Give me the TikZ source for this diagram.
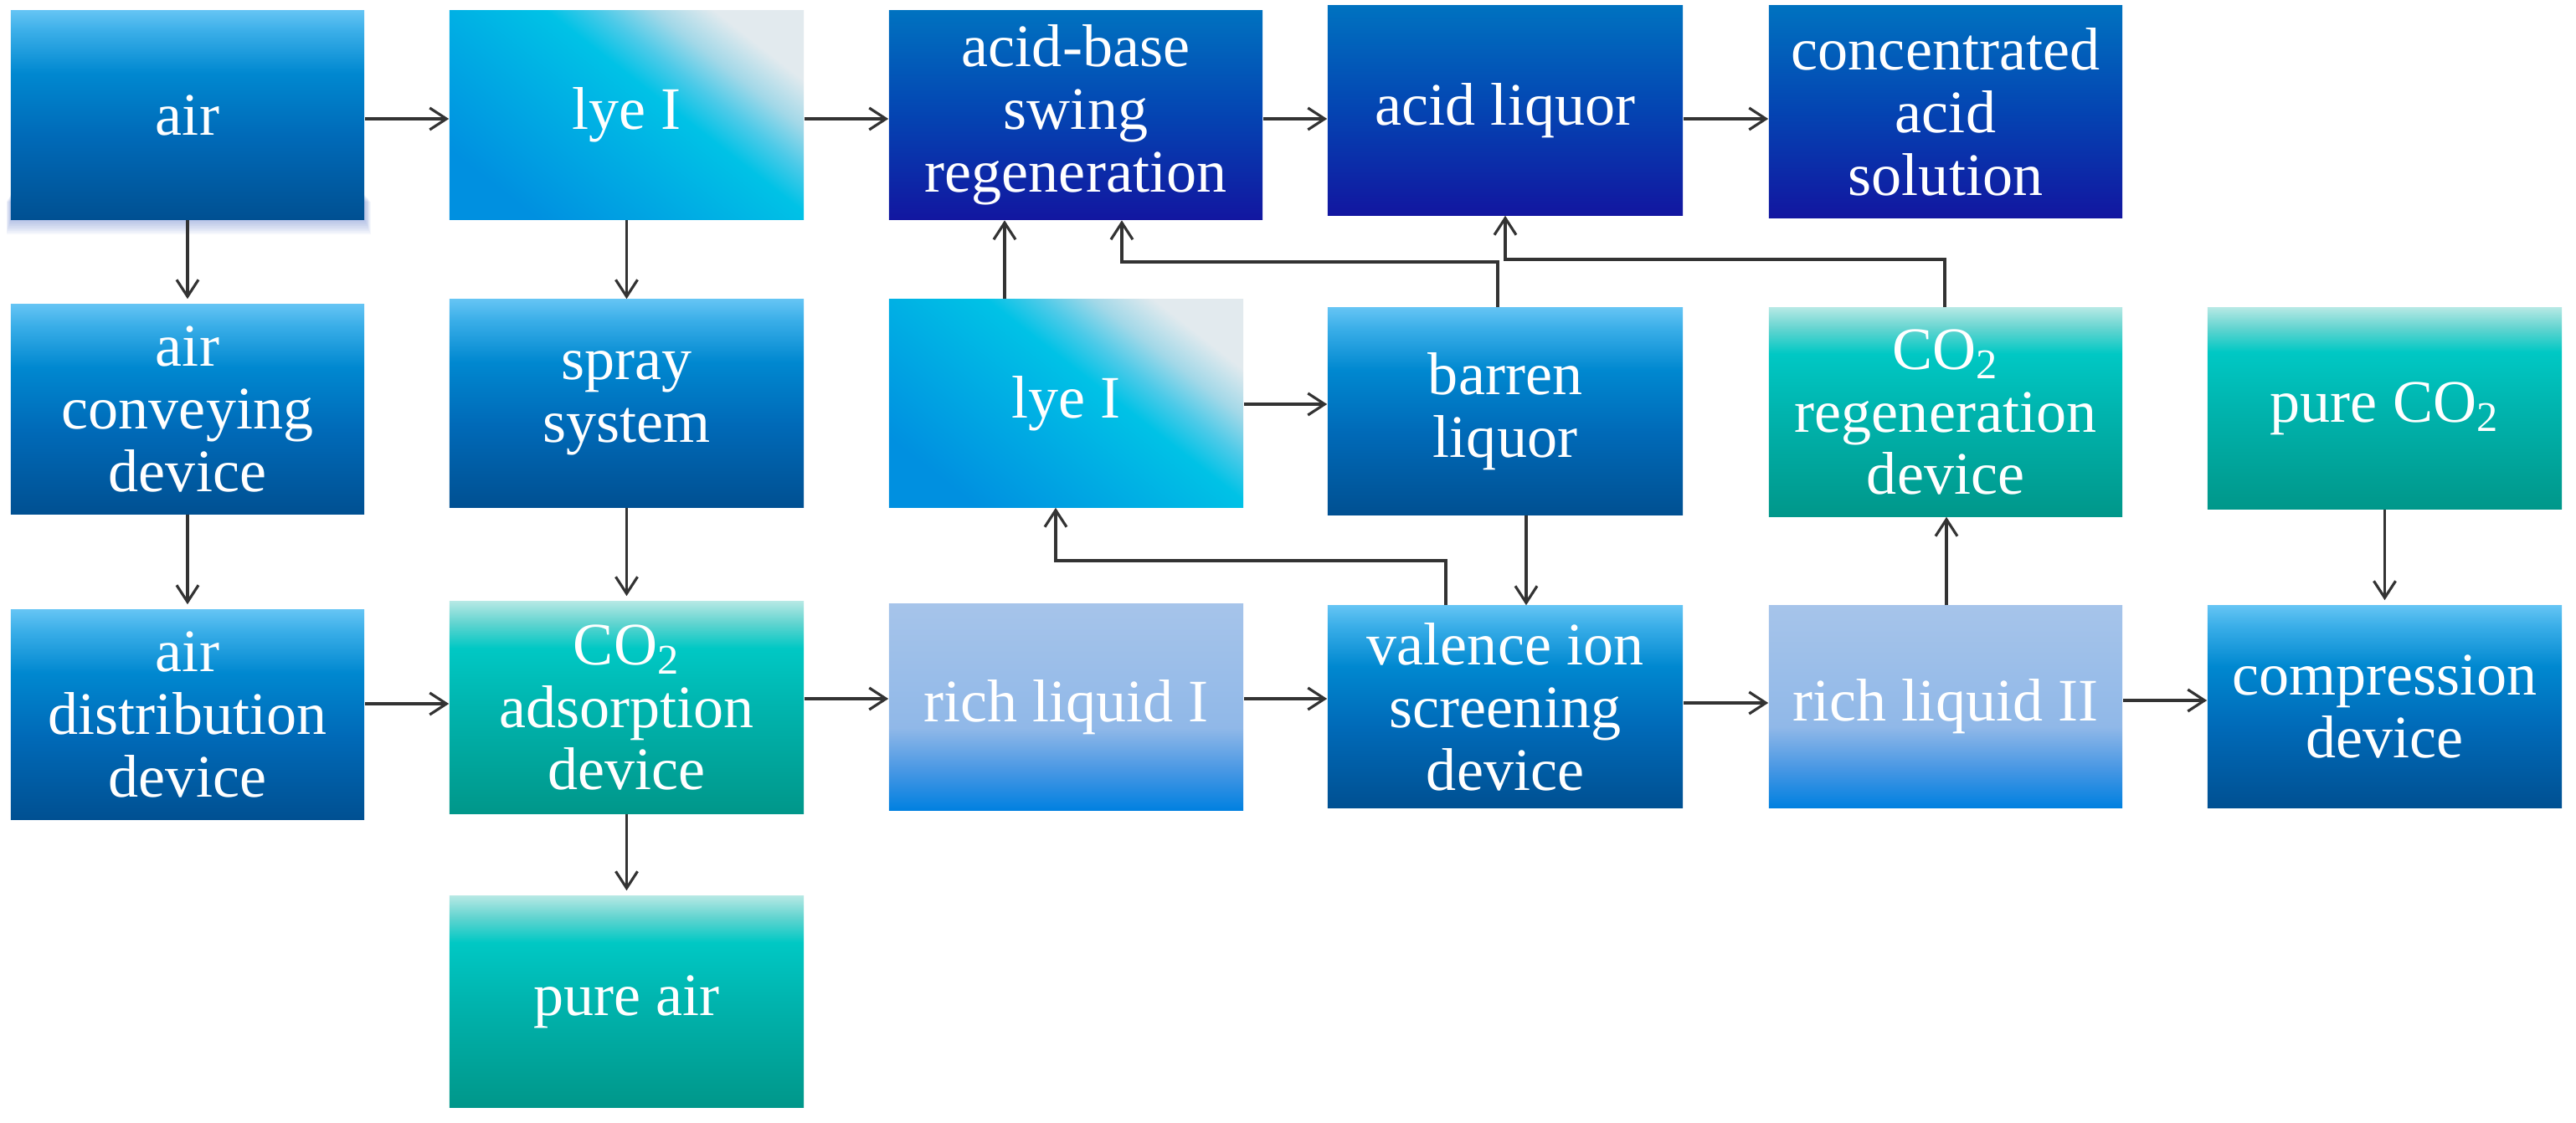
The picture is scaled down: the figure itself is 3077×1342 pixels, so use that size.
\documentclass[tikz,border=0pt]{standalone}
\usepackage{fontspec}
\setmainfont{Liberation Serif}
\usetikzlibrary{arrows.meta}
% blue boxes
\definecolor{bA1}{HTML}{005092}
\definecolor{bA2}{HTML}{006AB8}
\definecolor{bA3}{HTML}{0088D0}
\definecolor{bA4}{HTML}{3AAEE8}
\definecolor{bA5}{HTML}{64C4F4}
% navy boxes
\definecolor{nA1}{HTML}{1216A0}
\definecolor{nA2}{HTML}{0444B2}
\definecolor{nA3}{HTML}{0072C0}
% teal boxes
\definecolor{tA1}{HTML}{00978A}
\definecolor{tA2}{HTML}{00B4AE}
\definecolor{tA3}{HTML}{00C8C4}
\definecolor{tA4}{HTML}{62D4D0}
\definecolor{tA5}{HTML}{B4E8E4}
% rich boxes
\definecolor{rA1}{HTML}{0080E0}
\definecolor{rA2}{HTML}{4A98E4}
\definecolor{rA3}{HTML}{90B8E8}
\definecolor{rA4}{HTML}{A6C4EA}
% lye boxes
\definecolor{lA1}{HTML}{0090E0}
\definecolor{lA2}{HTML}{00B0E4}
\definecolor{lA3}{HTML}{00C2E6}
\definecolor{lA4}{HTML}{4CCAE8}
\definecolor{lA5}{HTML}{A2D8E8}
\definecolor{lA6}{HTML}{E2EAEE}
\definecolor{linec}{HTML}{333333}
\definecolor{shadowc}{HTML}{4A6CC8}
\pgfdeclareverticalshading{shBlue}{100bp}{color(0bp)=(bA1); color(25bp)=(bA1); color(45bp)=(bA2); color(60bp)=(bA3); color(70bp)=(bA4); color(75bp)=(bA5); color(100bp)=(bA5)}
\pgfdeclareverticalshading{shNavy}{100bp}{color(0bp)=(nA1); color(25bp)=(nA1); color(50bp)=(nA2); color(75bp)=(nA3); color(100bp)=(nA3)}
\pgfdeclareverticalshading{shTeal}{100bp}{color(0bp)=(tA1); color(25bp)=(tA1); color(50bp)=(tA2); color(64bp)=(tA3); color(70bp)=(tA4); color(75bp)=(tA5); color(100bp)=(tA5)}
\pgfdeclareverticalshading{shRich}{100bp}{color(0bp)=(rA1); color(25bp)=(rA1); color(35bp)=(rA2); color(45bp)=(rA3); color(75bp)=(rA4); color(100bp)=(rA4)}
\pgfdeclarehorizontalshading{shLye}{100bp}{color(0bp)=(lA1); color(25bp)=(lA1); color(45bp)=(lA2); color(56bp)=(lA3); color(62bp)=(lA4); color(68bp)=(lA5); color(75bp)=(lA6); color(100bp)=(lA6)}
\tikzset{
  bx/.style={rectangle, inner sep=0pt, align=center, text=white,
    font=\fontsize{20.5pt}{21.3pt}\selectfont},
  blueb/.style={bx, shading=shBlue},
  navyb/.style={bx, shading=shNavy},
  tealb/.style={bx, shading=shTeal},
  richb/.style={bx, shading=shRich},
  lyeb/.style={bx, shading=shLye, shading angle=52},
  arr/.style={draw=linec, line width=0.9pt,
    -{Straight Barb[length=0.2cm, width=0.26cm, line width=0.9pt]}},
}
\begin{document}
\begin{tikzpicture}[x=0.01cm, y=-0.01cm]
\useasboundingbox (0,0) rectangle (3077,1342);
\fill[white] (0,0) rectangle (3077,1342);
% soft shadow under "air"
\foreach \e in {0,2,...,18} {
  \fill[shadowc, opacity=0.05] (13-\e*0.3,232+\e*0.5) rectangle (435+\e*0.45,262+\e);
}
% row 1
\node[blueb, minimum width=4.22cm, minimum height=2.5cm] (air) at (224,137.5) {air};
\node[lyeb, minimum width=4.23cm, minimum height=2.5cm] (lyeA) at (748.5,137.5) {lye I};
\node[navyb, minimum width=4.46cm, minimum height=2.5cm] (abs) at (1285,137.5) {acid-base\\swing\\regeneration};
\node[navyb, minimum width=4.24cm, minimum height=2.5cm] (acid) at (1798,132) {acid liquor};
\node[navyb, minimum width=4.22cm, minimum height=2.53cm] (conc) at (2324,133.5) {concentrated\\acid\\solution};
% row 2
\node[blueb, minimum width=4.22cm, minimum height=2.5cm] (conv) at (224,489) {air\\conveying\\device};
\node[blueb, minimum width=4.23cm, minimum height=2.48cm] (spray) at (748.5,482) {spray\\system};
\node[lyeb, minimum width=4.23cm, minimum height=2.48cm] (lyeB) at (1273.5,482) {lye I};
\node[blueb, minimum width=4.24cm, minimum height=2.47cm] (barren) at (1798,491.5) {barren\\liquor};
\node[tealb, minimum width=4.22cm, minimum height=2.49cm] (cregen) at (2324,492.5) {CO\textsubscript{2}\\regeneration\\device};
\node[tealb, minimum width=4.23cm, minimum height=2.4cm] (pco2) at (2848.5,488) {pure CO\textsubscript{2}};
% row 3
\node[blueb, minimum width=4.22cm, minimum height=2.5cm] (dist) at (224,854) {air\\distribution\\device};
\node[tealb, minimum width=4.23cm, minimum height=2.53cm] (ads) at (748.5,845.5) {CO\textsubscript{2}\\adsorption\\device};
\node[richb, minimum width=4.23cm, minimum height=2.47cm] (rich1) at (1273.5,845) {rich liquid I};
\node[blueb, minimum width=4.24cm, minimum height=2.41cm] (val) at (1798,844.5) {valence ion\\screening\\device};
\node[richb, minimum width=4.22cm, minimum height=2.41cm] (rich2) at (2324,844.5) {rich liquid II};
\node[blueb, minimum width=4.23cm, minimum height=2.41cm] (comp) at (2848.5,844.5) {compression\\device};
% row 4
\node[tealb, minimum width=4.23cm, minimum height=2.52cm] (pair) at (748.5,1197) {pure air};
% connectors
\draw[arr] (air.east |- 0,142) -- (lyeA.west |- 0,142);
\draw[arr] (lyeA.east |- 0,142) -- (abs.west |- 0,142);
\draw[arr] (abs.east |- 0,142) -- (acid.west |- 0,142);
\draw[arr] (acid.east |- 0,142) -- (conc.west |- 0,142);
\draw[arr] (air.south) -- ([yshift=0.06cm]conv.north);
\draw[arr] (conv.south) -- ([yshift=0.06cm]dist.north);
\draw[arr] (lyeA.south) -- (spray.north);
\draw[arr] (spray.south) -- ([yshift=0.06cm]ads.north);
\draw[arr] (ads.south) -- ([yshift=0.06cm]pair.north);
\draw[arr] (dist.east |- 0,841) -- (ads.west |- 0,841);
\draw[arr] (ads.east |- 0,835) -- (rich1.west |- 0,835);
\draw[arr] (rich1.east |- 0,835) -- (val.west |- 0,835);
\draw[arr] (val.east |- 0,840) -- (rich2.west |- 0,840);
\draw[arr] (rich2.east |- 0,837) -- (comp.west |- 0,837);
\draw[arr] (1200,0 |- lyeB.north) -- (1200,0 |- abs.south);
\draw[arr] (lyeB.east |- 0,483) -- (barren.west |- 0,483);
\draw[arr] (1789,0 |- barren.north) -- (1789,313) -| (1340,0 |- abs.south);
\draw[arr] (2323,0 |- cregen.north) -- (2323,310) -| (1798,0 |- acid.south);
\draw[arr] (1823,0 |- barren.south) -- (1823,0 |- val.north);
\draw[arr] (1727,0 |- val.north) -- (1727,670) -| (1261,0 |- lyeB.south);
\draw[arr] (2325,0 |- rich2.north) -- (2325,0 |- cregen.south);
\draw[arr] (pco2.south) -- ([yshift=0.06cm]comp.north);
\end{tikzpicture}
\end{document}
